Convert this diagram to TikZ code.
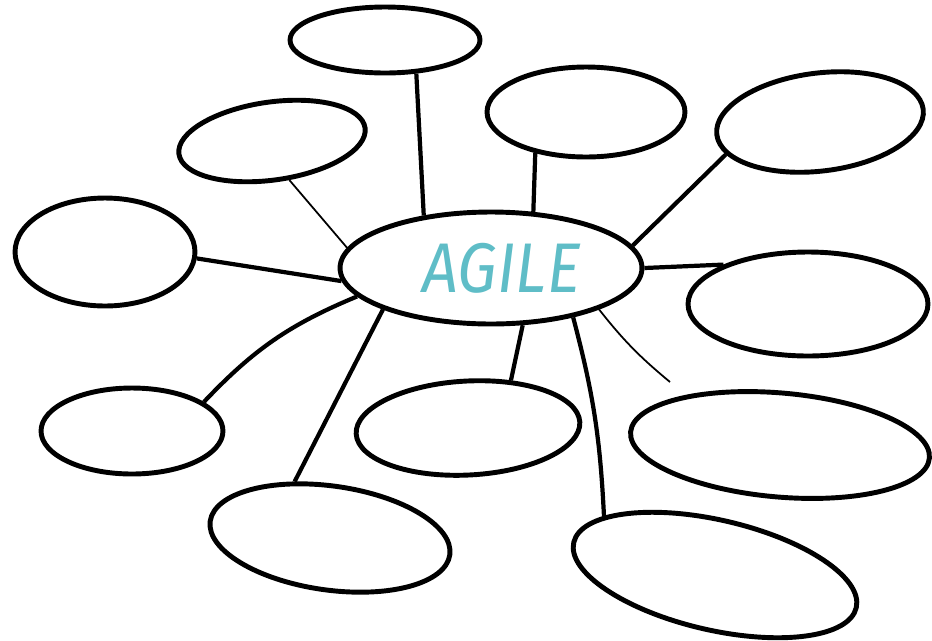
\documentclass[tikz,border=0pt]{standalone}
\usepackage{fontspec}
\newfontfamily\handfont{Fira Sans}
\usetikzlibrary{shapes.geometric}
\definecolor{agileteal}{HTML}{5FBDC7}
\begin{document}
\begin{tikzpicture}[x=0.02cm,y=-0.02cm,
	blob/.style={draw,ellipse,line width=2.8pt,inner sep=0pt},
	link/.style={line width=2.4pt},thinlink/.style={line width=1pt}]
	\useasboundingbox (0,0) rectangle (932,640);
	\foreach \nm/\px/\py/\w/\h/\r in {top/385/40/3.8/1.32/0,ul/272/141/3.76/1.56/8,uc/586/112/3.96/1.8/0,ur/820/122/4.16/1.96/7,left/105/252/3.6/2.16/0,right/808/304/4.8/2.08/0,ll/132/431/3.64/1.72/0,lc/468/428/4.48/1.88/3,rl/780/445/6.0/2.08/-5,bl/330/538/4.84/2.08/-8,br/715/575/5.8/2.2/-13}
	\node[blob,minimum width=\w cm,minimum height=\h cm,rotate=\r] (\nm) at (\px,\py) {};
	\node[blob,minimum width=6.04cm,minimum height=2.24cm,text=agileteal,font=\handfont\itshape\fontsize{40}{44}\selectfont] (agile) at (491,268) {\hspace{12pt}\scalebox{0.9}[1]{AGILE}};
	\coordinate (rlend) at (670,382);
	\foreach \a/\nm/\b in {142/top/313,185/left/356,53/uc/219,9/ur/192,0/right/155,201/bl/130,299/lc/45}
	\draw[link] (agile.\a)--(\nm.\b);
	\draw[thinlink] (agile.172)--(ul.286);
	\draw[link] (agile.192) to[bend right=12] (ll.22);
	\draw[link] (agile.329) to[bend left=6] (br.165);
	\draw[thinlink] (agile.339) to[bend right=6] (rlend);
\end{tikzpicture}
\end{document}
